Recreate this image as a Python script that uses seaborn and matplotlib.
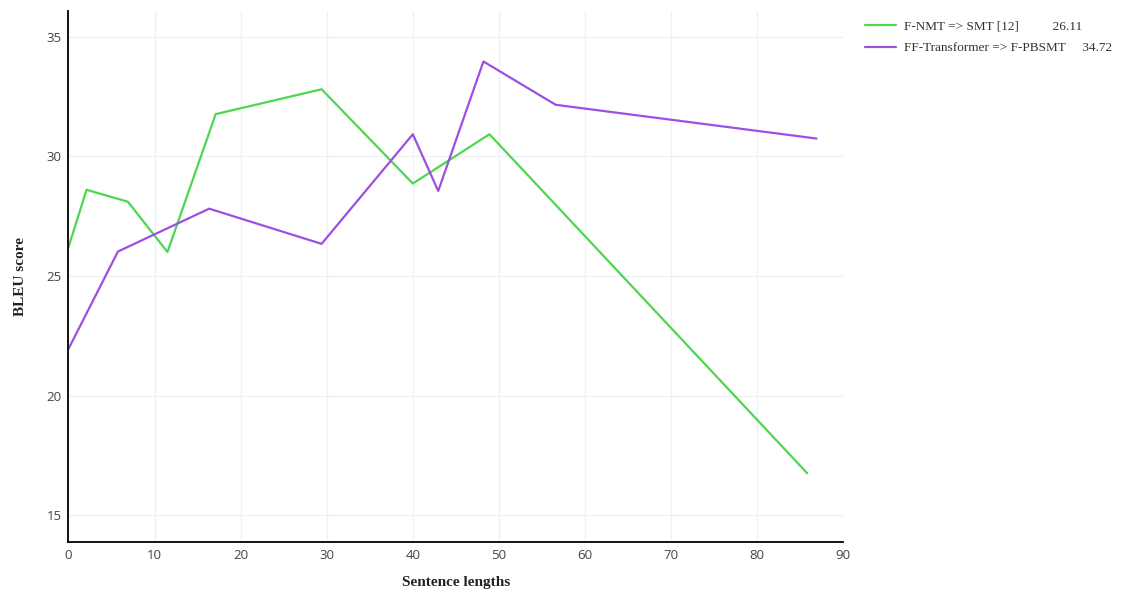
import matplotlib
matplotlib.use("Agg")
import matplotlib.pyplot as plt
import seaborn as sns
import pandas as pd

# Data
series_names = ["F-NMT => SMT [12]", "FF-Transformer => F-PBSMT"]
series_scores = ["26.11", "34.72"]
fnmt_x = [0, 2.1, 6.9, 11.5, 17.1, 29.4, 40.0, 48.9, 85.8]
fnmt_y = [26.2, 28.6, 28.1, 26.0, 31.76, 32.8, 28.86, 30.92, 16.76]
fft_x = [0, 5.75, 16.35, 29.4, 40.0, 42.95, 48.2, 56.6, 86.9]
fft_y = [21.95, 26.02, 27.81, 26.34, 30.92, 28.55, 33.96, 32.15, 30.74]
x_ticks = [0, 10, 20, 30, 40, 50, 60, 70, 80, 90]
y_ticks = [15, 20, 25, 30, 35]
colors = ["#4fd64f", "#9b4fe3"]

sns.set_theme(style="white")
plt.rcParams["font.family"] = ["Open Sans", "DejaVu Sans"]

fig = plt.figure(figsize=(11.28, 5.91), dpi=100)
ax = fig.add_axes([0.0607, 0.0824, 0.6869, 0.899])

df1 = pd.DataFrame({"x": fnmt_x, "y": fnmt_y})
df2 = pd.DataFrame({"x": fft_x, "y": fft_y})
gaps = [" " * 10, " " * 5]
labels = [f"{n}{g}{s}" for n, g, s in zip(series_names, gaps, series_scores)]
sns.lineplot(data=df1, x="x", y="y", ax=ax, color=colors[0], linewidth=1.6, sort=False,
             label=labels[0])
sns.lineplot(data=df2, x="x", y="y", ax=ax, color=colors[1], linewidth=1.6, sort=False,
             label=labels[1])

ax.set_xlim(0, 90)
ax.set_ylim(13.87, 36.07)
ax.set_xticks(x_ticks)
ax.set_yticks(y_ticks)
ax.grid(True, color="#eef0f8", linewidth=1)
for s in ["top", "right"]:
    ax.spines[s].set_visible(False)
for s in ["left", "bottom"]:
    ax.spines[s].set_color("black")
    ax.spines[s].set_linewidth(1.3)
ax.tick_params(axis="both", length=0, labelsize=9.5, colors="#444444", pad=5)

ax.set_xlabel("Sentence lengths", family="Liberation Serif", fontweight="bold",
              fontsize=11, color="#222222", labelpad=10)
ax.set_ylabel("BLEU score", family="Liberation Serif", fontweight="bold",
              fontsize=11, color="#222222", labelpad=14)

ax.legend_.remove()
h, l = ax.get_legend_handles_labels()
leg = fig.legend(h, labels,
                 loc="upper left", bbox_to_anchor=(0.756, 0.985), frameon=False,
                 prop={"family": "Liberation Serif", "size": 9.5},
                 handlelength=2.4, labelspacing=0.7, handletextpad=0.6)
for t in leg.get_texts():
    t.set_color("#333333")

fig.savefig("out.png", dpi=100)
